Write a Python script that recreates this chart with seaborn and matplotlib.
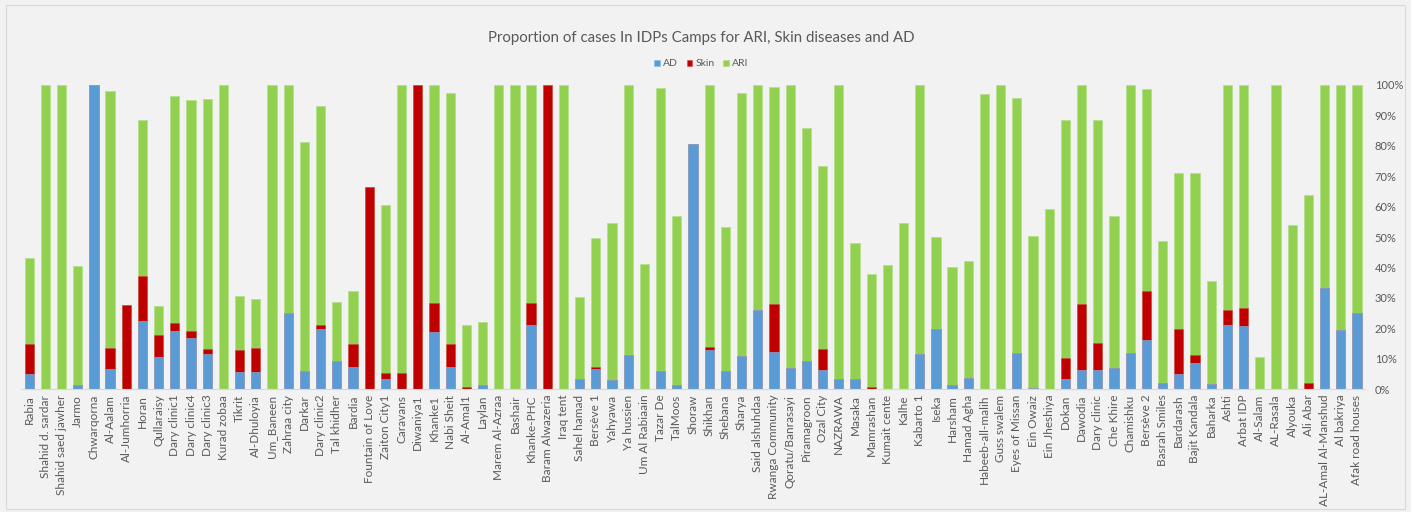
import numpy as np
import pandas as pd
import matplotlib
matplotlib.use("Agg")
import matplotlib.pyplot as plt
import seaborn as sns
from matplotlib.patches import Rectangle
from matplotlib.ticker import PercentFormatter, MultipleLocator

camps = ["Rabia", "Shahid d. sardar", "Shahid saed jawher", "Jarmo", "Chwarqorna",
         "Al-Aalam", "Al-Jumhorria", "Horan", "Qullaraisy", "Dary clinic1",
         "Dary clinic4", "Dary clinic3", "Kurad zobaa", "Tikrit", "Al-Dhuloyia",
         "Um_Baneen", "Zahraa city", "Darkar", "Dary clinic2", "Tal khidher",
         "Bardia", "Fountain of Love", "Zaiton City1", "Caravans", "Diwaniya1",
         "Khanke1", "Nabi Sheit", "Al-Amal1", "Laylan", "Marem Al-Azraa",
         "Bashair", "Khanke-PHC", "Baram Alwazeria", "Iraq tent", "Sahel hamad",
         "Bersève 1", "Yahyawa", "Ya hussien", "Um Al Rabiaain", "Tazar De",
         "TalMoos", "Shoraw", "Shikhan", "Shebana", "Sharya",
         "Said alshuhdaa", "Rwanga Community", "Qoratu/Banrasayi", "Piramagroon", "Ozal City",
         "NAZRAWA", "Masaka", "Mamrashan", "Kumait cente", "Kalhe",
         "Kabarto 1", "Iseka", "Harsham", "Hamad Agha", "Habeeb-all-malih",
         "Guss swalem", "Eyes of Missan", "Ein Owaiz", "Ein Jheshiya", "Dokan",
         "Dawodia", "Dary clinic", "Che Khire", "Chamishku", "Bersève 2",
         "Basrah Smiles", "Bardarash", "Bajit Kandala", "Baharka", "Ashti",
         "Arbat IDP", "Al-Salam", "AL-Rasala", "Alyouka", "Ali Abar",
         "AL-Amal Al-Manshud", "Al bakriya", "Afak road houses"]

ad = [5.0, 0, 0, 1.3, 100,
      6.7, 0, 22.5, 10.7, 19.1,
      16.8, 11.7, 0, 5.7, 5.7,
      0, 24.9, 6.0, 19.8, 9.4,
      7.3, 0, 3.4, 0, 0,
      18.9, 7.3, 0, 1.3, 0,
      0, 21.2, 0, 0, 3.4,
      6.7, 3.1, 11.2, 0, 6.0,
      1.3, 80.7, 12.8, 6.0, 10.8,
      26.0, 12.1, 7.1, 9.1, 6.3,
      3.4, 3.4, 0.2, 0, 0,
      11.4, 19.9, 1.3, 3.7, 0,
      0, 11.8, 0.4, 0, 3.4,
      6.3, 6.3, 7.1, 11.8, 16.2,
      2.0, 4.9, 8.6, 1.6, 21.2,
      20.6, 0, 0, 0, 0,
      33.2, 19.3, 25.1]

skin = [10.0, 0, 0, 0, 0,
        6.8, 27.7, 14.7, 7.1, 2.5,
        2.4, 1.4, 0, 7.3, 7.8,
        0, 0, 0, 1.2, 0,
        7.5, 66.4, 2.0, 5.4, 100,
        9.4, 7.5, 0.7, 0, 0,
        0, 7.1, 100, 0, 0,
        0.5, 0, 0, 0, 0,
        0, 0, 0.9, 0, 0,
        0, 15.9, 0, 0, 6.8,
        0, 0, 0.5, 0, 0,
        0, 0, 0, 0, 0,
        0, 0, 0, 0, 6.7,
        21.7, 8.8, 0, 0, 16.2,
        0, 15.0, 2.6, 0, 4.8,
        6.1, 0, 0, 0, 2.0,
        0, 0, 0]

ari = [28.0, 100, 100, 39.2, 0,
       84.5, 0, 51.3, 9.4, 74.9,
       76.0, 82.2, 100, 17.7, 16.1,
       100, 75.1, 75.1, 72.2, 19.2,
       17.6, 0, 55.0, 94.6, 0,
       71.7, 82.5, 20.5, 20.9, 100,
       100, 71.7, 0, 100, 27.0,
       42.4, 51.6, 88.8, 41.1, 93.0,
       55.7, 0, 86.3, 47.3, 86.5,
       74.0, 71.3, 92.9, 76.8, 60.2,
       96.6, 44.5, 37.0, 40.8, 54.7,
       88.6, 30.0, 38.9, 38.5, 96.9,
       100, 83.8, 50.1, 59.1, 78.4,
       72.0, 73.4, 49.9, 88.2, 66.3,
       46.6, 51.0, 59.7, 33.8, 74.0,
       73.3, 10.4, 100, 54.0, 61.8,
       66.8, 80.7, 74.9]

df = pd.DataFrame({"camp": camps, "AD": ad, "Skin": skin, "ARI": ari})
df["ad_top"] = df["AD"]
df["skin_top"] = df["AD"] + df["Skin"]
df["ari_top"] = df["AD"] + df["Skin"] + df["ARI"]

sns.set_theme(style="white")
plt.rcParams["font.family"] = ["Lato", "DejaVu Sans"]

bg = "#f2f2f2"
c_ad, c_skin, c_ari = "#5b9bd5", "#c00000", "#92d050"
txt = "#595959"

fig = plt.figure(figsize=(14.11, 5.12), dpi=100, facecolor=bg)
ax = fig.add_axes([0.0149, 0.240, 0.9525, 0.594])
ax.set_facecolor(bg)

w = 0.57
sns.barplot(data=df, x="camp", y="ari_top", color=c_ari, width=w, saturation=1,
            edgecolor="#b5e08c", linewidth=0.6, ax=ax, label="ARI")
sns.barplot(data=df, x="camp", y="skin_top", color=c_skin, width=w, saturation=1,
            edgecolor="#d24a4a", linewidth=0.4, ax=ax, label="Skin")
sns.barplot(data=df, x="camp", y="ad_top", color=c_ad, width=w, saturation=1,
            edgecolor="#8db8e3", linewidth=0.4, ax=ax, label="AD")

ax.set_xlim(-0.5, len(camps) - 0.5)
ax.set_ylim(0, 100)
ax.yaxis.set_major_locator(MultipleLocator(10))
ax.yaxis.set_major_formatter(PercentFormatter(decimals=0))
ax.yaxis.tick_right()
ax.tick_params(axis="y", length=0, labelsize=8, labelcolor=txt, pad=7)
ax.tick_params(axis="x", length=0, labelsize=8.5, labelcolor=txt, rotation=90, pad=4)
ax.set_xlabel("")
ax.set_ylabel("")
for s in ["top", "left", "right"]:
    ax.spines[s].set_visible(False)
ax.spines["bottom"].set_color("#d9d9d9")
ax.spines["bottom"].set_linewidth(0.8)

handles, labels = ax.get_legend_handles_labels()
order = [labels.index(l) for l in ["AD", "Skin", "ARI"]]
fig.legend([handles[i] for i in order], [labels[i] for i in order],
           loc="center", bbox_to_anchor=(0.497, 0.875), ncol=3, frameon=False,
           fontsize=7.5, handlelength=0.55, handleheight=0.55, handletextpad=0.3,
           columnspacing=0.8, labelcolor=txt)
if ax.get_legend() is not None:
    ax.get_legend().remove()

fig.text(0.497, 0.926, "Proportion of cases In IDPs Camps for ARI, Skin diseases and AD",
         ha="center", va="center", fontsize=10.8, color=txt)

fig.patches.append(Rectangle((0.004, 0.006), 0.992, 0.985, transform=fig.transFigure,
                             fill=False, edgecolor="#d9d9d9", linewidth=0.8))

fig.savefig("out.png", dpi=100, facecolor=bg)
